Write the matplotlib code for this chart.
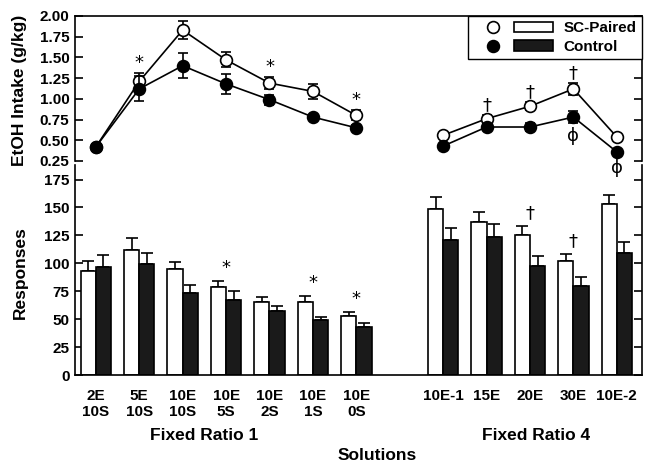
import numpy as np
import matplotlib
matplotlib.use("Agg")
import matplotlib.pyplot as plt
from matplotlib.lines import Line2D
from matplotlib.patches import Patch
from matplotlib.legend_handler import HandlerTuple
from matplotlib.transforms import blended_transform_factory

plt.rcParams['font.family'] = ['Liberation Sans', 'DejaVu Sans']

# categories
fr1_labels = ["2E\n10S", "5E\n10S", "10E\n10S", "10E\n5S", "10E\n2S", "10E\n1S", "10E\n0S"]
fr4_labels = ["10E-1", "15E", "20E", "30E", "10E-2"]

# EtOH intake (g/kg), means and SEM
sc_intake_fr1 = [0.42, 1.21, 1.83, 1.47, 1.19, 1.09, 0.80]
sc_intake_fr1_err = [0.03, 0.10, 0.11, 0.09, 0.07, 0.09, 0.06]
ctl_intake_fr1 = [0.42, 1.12, 1.40, 1.18, 0.99, 0.78, 0.65]
ctl_intake_fr1_err = [0.03, 0.15, 0.15, 0.12, 0.06, 0.03, 0.04]
sc_intake_fr4 = [0.56, 0.76, 0.91, 1.12, 0.54]
sc_intake_fr4_err = [0.03, 0.04, 0.05, 0.07, 0.03]
ctl_intake_fr4 = [0.43, 0.66, 0.66, 0.78, 0.36]
ctl_intake_fr4_err = [0.03, 0.04, 0.05, 0.07, 0.03]

# responses, means and SEM
sc_resp_fr1 = [93, 112, 95, 79, 65, 65, 53]
sc_resp_fr1_err = [9, 10.5, 6, 5, 4.5, 5.5, 3.5]
ctl_resp_fr1 = [97, 99, 73, 67, 57, 49, 43]
ctl_resp_fr1_err = [10, 10, 7.5, 8, 4.5, 3, 3.5]
sc_resp_fr4 = [149, 137, 125, 102, 153]
sc_resp_fr4_err = [10, 8.5, 8, 6.5, 8.5]
ctl_resp_fr4 = [121, 124, 98, 80, 109]
ctl_resp_fr4_err = [10.5, 11, 8.5, 8, 10]

# significance marks: (group, index, symbol)
top_marks = [("fr1", 1, "*"), ("fr1", 4, "*"), ("fr1", 6, "*"),
             ("fr4", 1, "\u2020"), ("fr4", 2, "\u2020"), ("fr4", 3, "\u2020")]
top_marks_below = [("fr4", 3, "\u03d5"), ("fr4", 4, "\u03d5")]
bot_marks = [("fr1", 3, "*"), ("fr1", 5, "*"), ("fr1", 6, "*"),
             ("fr4", 2, "\u2020"), ("fr4", 3, "\u2020")]

x1 = np.arange(len(fr1_labels))
x4 = np.arange(len(fr4_labels)) + 8
xs = {"fr1": x1, "fr4": x4}

fig = plt.figure(figsize=(6.45, 4.63), dpi=100)
ax_bot = fig.add_axes([0.1163, 0.19, 0.879, 0.4536])
ax_top = fig.add_axes([0.1163, 0.6523, 0.879, 0.3132])
ax_top.patch.set_alpha(0)

lw = 1.2
ms = 8.5

# top panel: intake lines
for x, sc, sce, ct, cte in [(x1, sc_intake_fr1, sc_intake_fr1_err, ctl_intake_fr1, ctl_intake_fr1_err),
                            (x4, sc_intake_fr4, sc_intake_fr4_err, ctl_intake_fr4, ctl_intake_fr4_err)]:
    ax_top.errorbar(x, sc, yerr=sce, color='black', lw=lw, capsize=3.5, capthick=lw,
                    marker='o', ms=ms, mfc='white', mec='black', mew=lw, zorder=3)
    ax_top.errorbar(x, ct, yerr=cte, color='black', lw=lw, capsize=3.5, capthick=lw,
                    marker='o', ms=ms, mfc='black', mec='black', mew=lw, zorder=4)

ax_top.set_xlim(-0.48, 12.58)
ax_top.set_ylim(0.25, 2.0)
ax_top.set_yticks(np.arange(0.25, 2.01, 0.25))
ax_top.set_yticklabels([f"{v:.2f}" for v in np.arange(0.25, 2.01, 0.25)])
ax_top.spines['bottom'].set_visible(False)
ax_top.tick_params(axis='x', bottom=False, labelbottom=False)
ax_top.set_ylabel("EtOH Intake (g/kg)", fontsize=12.5, fontweight='bold')
ax_top.yaxis.set_label_coords(-0.084, 0.49)

intake = {"fr1": (sc_intake_fr1, sc_intake_fr1_err, ctl_intake_fr1, ctl_intake_fr1_err),
          "fr4": (sc_intake_fr4, sc_intake_fr4_err, ctl_intake_fr4, ctl_intake_fr4_err)}
for grp, i, sym in top_marks:
    sc, sce, _, _ = intake[grp]
    ax_top.annotate(sym, (xs[grp][i], sc[i] + sce[i]), xytext=(0, 1), textcoords='offset points',
                    ha='center', va='bottom', fontsize=13, family='DejaVu Sans')
for grp, i, sym in top_marks_below:
    _, _, ct, cte = intake[grp]
    ax_top.annotate(sym, (xs[grp][i], ct[i] - cte[i]), xytext=(0, -3), textcoords='offset points',
                    ha='center', va='top', fontsize=13, family='DejaVu Sans', annotation_clip=False)

# legend
h_sc = (Line2D([], [], ls='none', marker='o', ms=ms, mfc='white', mec='black', mew=lw),
        Patch(facecolor='white', edgecolor='black', lw=lw))
h_ct = (Line2D([], [], ls='none', marker='o', ms=ms, mfc='black', mec='black', mew=lw),
        Patch(facecolor='#1a1a1a', edgecolor='black', lw=lw))
leg = ax_top.legend([h_sc, h_ct], ["SC-Paired", "Control"], loc='upper right',
                    handler_map={tuple: HandlerTuple(ndivide=None, pad=0.1)},
                    handlelength=5.2, handletextpad=0.7, borderaxespad=0.0, borderpad=0.35,
                    labelspacing=0.3, fancybox=False, framealpha=1, edgecolor='black',
                    prop={'weight': 'bold', 'size': 11})
leg.get_frame().set_linewidth(1.0)

# bottom panel: response bars
bw = 0.35
for x, sc, sce, ct, cte in [(x1, sc_resp_fr1, sc_resp_fr1_err, ctl_resp_fr1, ctl_resp_fr1_err),
                            (x4, sc_resp_fr4, sc_resp_fr4_err, ctl_resp_fr4, ctl_resp_fr4_err)]:
    ax_bot.bar(x - bw / 2, sc, bw, color='white', edgecolor='black', lw=lw, zorder=2)
    ax_bot.bar(x + bw / 2, ct, bw, color='#1a1a1a', edgecolor='black', lw=lw, zorder=2)
    ax_bot.errorbar(x - bw / 2, sc, yerr=[np.zeros(len(sc)), sce], fmt='none', ecolor='black',
                    elinewidth=lw, capsize=4, capthick=lw, zorder=1)
    ax_bot.errorbar(x + bw / 2, ct, yerr=[np.zeros(len(ct)), cte], fmt='none', ecolor='black',
                    elinewidth=lw, capsize=4, capthick=lw, zorder=1)

resp = {"fr1": (sc_resp_fr1, sc_resp_fr1_err), "fr4": (sc_resp_fr4, sc_resp_fr4_err)}
for grp, i, sym in bot_marks:
    sc, sce = resp[grp]
    ax_bot.annotate(sym, (xs[grp][i], sc[i] + sce[i]), xytext=(0, 3), textcoords='offset points',
                    ha='center', va='bottom', fontsize=13, family='DejaVu Sans')

ax_bot.set_xlim(-0.48, 12.58)
ax_bot.set_ylim(0, 188)
ax_bot.set_yticks(np.arange(0, 176, 25))
ax_bot.spines['top'].set_visible(False)
ax_bot.set_xticks(np.concatenate([x1, x4]))
ax_bot.set_xticklabels(fr1_labels + fr4_labels)
ax_bot.tick_params(axis='x', length=0, pad=10, labelsize=11)
ax_bot.set_ylabel("Responses", fontsize=12.5, fontweight='bold')
ax_bot.yaxis.set_label_coords(-0.084, 0.486)

trans = blended_transform_factory(ax_bot.transData, ax_bot.transAxes)
ax_bot.text(x1.mean() - 0.5, -0.29, "Fixed Ratio 1", transform=trans, ha='center', va='center',
            fontsize=12.5, fontweight='bold')
ax_bot.text(x4.mean() + 0.15, -0.29, "Fixed Ratio 4", transform=trans, ha='center', va='center',
            fontsize=12.5, fontweight='bold')
ax_bot.text(6.47, -0.381, "Solutions", transform=trans, ha='center', va='center',
            fontsize=12.5, fontweight='bold')

for ax in (ax_top, ax_bot):
    for s in ax.spines.values():
        s.set_linewidth(lw)
    ax.tick_params(axis='y', direction='in', length=6, width=lw, right=True, labelright=False,
                   pad=4, labelsize=11)
    for lab in ax.get_yticklabels() + ax.get_xticklabels():
        lab.set_fontweight('bold')

fig.savefig("out.png", dpi=100)
